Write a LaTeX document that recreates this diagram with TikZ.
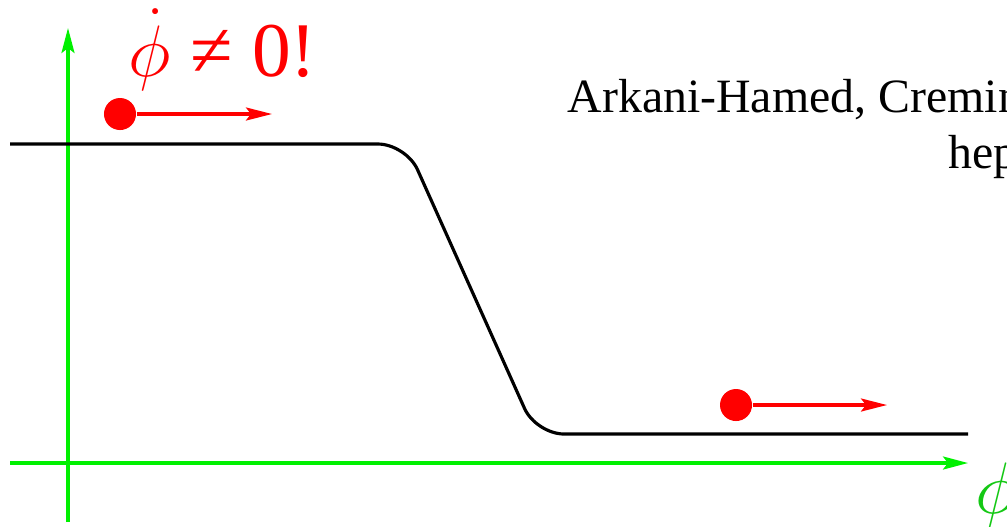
\documentclass[tikz,border=0pt]{standalone}
\usepackage{fontspec}
\setmainfont{Liberation Serif}
\usetikzlibrary{arrows.meta}

\definecolor{axisgreen}{RGB}{0,240,0}
\definecolor{labelgreen}{RGB}{20,200,20}

\begin{document}
\begin{tikzpicture}[x=0.01cm, y=-0.01cm,
    axis/.style={draw=axisgreen, line width=0.9pt,
                 -{Stealth[length=2.5mm, width=1.3mm, inset=0.5mm]}},
    ball/.style={circle, fill=red, minimum size=0.32cm, inner sep=0pt},
    push/.style={draw=red, line width=0.9pt,
                 -{Stealth[length=2.6mm, width=1.3mm, inset=0.5mm]}},
    potential/.style={line width=0.9pt, rounded corners=0.28cm},
    cite/.style={font=\fontsize{13.6}{16}\selectfont, inner sep=0pt, anchor=base west}
]
\useasboundingbox (0,0) rectangle (1007,526);
\clip (0,0) rectangle (1007,526);

% Axes
\coordinate (ybot) at (68,522);
\coordinate (ytop) at (68,28);
\coordinate (xleft) at (10,463);
\coordinate (xright) at (968,463);
\draw[axis] (ybot) -- (ytop);
\draw[axis] (xleft) -- (xright);
\node[anchor=base west, inner sep=0pt, text=labelgreen,
      font=\fontsize{22}{26}\selectfont] (philabel) at (975,513) {$\phi$};

% Potential step
\draw[potential] (10,144) -- (406,144) -- (536,434) -- (968,434);

% Field rolling on the upper plateau
\node[ball] (upball) at (120,114) {};
\coordinate (upend) at (272,114);
\draw[push] (upball) -- (upend);
\node[anchor=base west, inner sep=0pt, text=red,
      font=\fontsize{22}{26}\selectfont] (velocity) at (128,76)
    {$\dot{\phi}$ ≠ 0!};

% Field rolling on the lower plateau
\node[ball] (downball) at (736,405) {};
\coordinate (downend) at (887,405);
\draw[push] (downball) -- (downend);

% Reference
\node[cite] (authors) at (567,112) {Arkani-Hamed, Cremin};
\node[cite] (eprint) at (948,168) {hep};

\end{tikzpicture}
\end{document}
